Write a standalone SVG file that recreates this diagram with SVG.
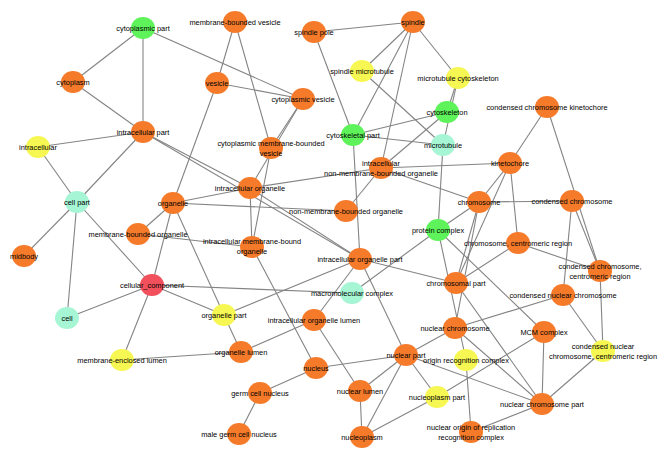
<svg xmlns="http://www.w3.org/2000/svg" width="669" height="454" viewBox="0 0 669 454">
<style>
.e line{stroke:#848484;stroke-width:1.1}
ellipse{stroke:none}
.o{fill:#f57b2b}.g{fill:#5ef35a}.c{fill:#a6f5d4}.y{fill:#f7f753}.r{fill:#f1505c}
text{font-family:"Liberation Sans",Arial,sans-serif;font-size:7.4px;fill:#000000;text-anchor:middle}
</style>
<rect width="669" height="454" fill="#ffffff"/>
<g id="edges" class="e">
<line x1="143" y1="28" x2="73" y2="82"/>
<line x1="143" y1="28" x2="143" y2="132"/>
<line x1="143" y1="28" x2="303" y2="99"/>
<line x1="73" y1="82" x2="143" y2="132"/>
<line x1="235" y1="22" x2="217" y2="83"/>
<line x1="235" y1="22" x2="271" y2="148"/>
<line x1="217" y1="83" x2="303" y2="99"/>
<line x1="217" y1="83" x2="173" y2="203"/>
<line x1="303" y1="99" x2="271" y2="148"/>
<line x1="303" y1="99" x2="250" y2="188"/>
<line x1="271" y1="148" x2="252" y2="247"/>
<line x1="314" y1="32" x2="413" y2="22"/>
<line x1="314" y1="32" x2="353" y2="135"/>
<line x1="413" y1="22" x2="362" y2="71"/>
<line x1="413" y1="22" x2="353" y2="135"/>
<line x1="413" y1="22" x2="381" y2="168"/>
<line x1="413" y1="22" x2="458" y2="78"/>
<line x1="362" y1="71" x2="443" y2="145"/>
<line x1="458" y1="78" x2="447" y2="112"/>
<line x1="458" y1="78" x2="443" y2="145"/>
<line x1="447" y1="112" x2="353" y2="135"/>
<line x1="447" y1="112" x2="381" y2="168"/>
<line x1="353" y1="135" x2="443" y2="145"/>
<line x1="353" y1="135" x2="360" y2="259"/>
<line x1="443" y1="145" x2="438" y2="230"/>
<line x1="143" y1="132" x2="38" y2="147"/>
<line x1="143" y1="132" x2="77" y2="202"/>
<line x1="143" y1="132" x2="250" y2="188"/>
<line x1="143" y1="132" x2="360" y2="259"/>
<line x1="38" y1="147" x2="77" y2="202"/>
<line x1="77" y1="202" x2="24" y2="256"/>
<line x1="77" y1="202" x2="67" y2="318"/>
<line x1="77" y1="202" x2="152" y2="285"/>
<line x1="152" y1="285" x2="173" y2="203"/>
<line x1="152" y1="285" x2="67" y2="318"/>
<line x1="152" y1="285" x2="122" y2="360"/>
<line x1="152" y1="285" x2="224" y2="315"/>
<line x1="152" y1="285" x2="352" y2="293"/>
<line x1="173" y1="203" x2="138" y2="234"/>
<line x1="173" y1="203" x2="250" y2="188"/>
<line x1="173" y1="203" x2="346" y2="211"/>
<line x1="173" y1="203" x2="224" y2="315"/>
<line x1="138" y1="234" x2="252" y2="247"/>
<line x1="250" y1="188" x2="381" y2="168"/>
<line x1="250" y1="188" x2="252" y2="247"/>
<line x1="250" y1="188" x2="360" y2="259"/>
<line x1="252" y1="247" x2="316" y2="368"/>
<line x1="346" y1="211" x2="381" y2="168"/>
<line x1="381" y1="168" x2="510" y2="163"/>
<line x1="381" y1="168" x2="479" y2="202"/>
<line x1="547" y1="107" x2="510" y2="163"/>
<line x1="547" y1="107" x2="600" y2="271"/>
<line x1="510" y1="163" x2="479" y2="202"/>
<line x1="510" y1="163" x2="456" y2="283"/>
<line x1="510" y1="163" x2="518" y2="243"/>
<line x1="479" y1="202" x2="572" y2="201"/>
<line x1="479" y1="202" x2="438" y2="230"/>
<line x1="479" y1="202" x2="456" y2="283"/>
<line x1="479" y1="202" x2="455" y2="328"/>
<line x1="572" y1="201" x2="600" y2="271"/>
<line x1="572" y1="201" x2="563" y2="295"/>
<line x1="518" y1="243" x2="600" y2="271"/>
<line x1="518" y1="243" x2="456" y2="283"/>
<line x1="600" y1="271" x2="603" y2="351"/>
<line x1="438" y1="230" x2="352" y2="293"/>
<line x1="438" y1="230" x2="544" y2="332"/>
<line x1="438" y1="230" x2="466" y2="360"/>
<line x1="360" y1="259" x2="224" y2="315"/>
<line x1="360" y1="259" x2="314" y2="320"/>
<line x1="360" y1="259" x2="406" y2="355"/>
<line x1="360" y1="259" x2="456" y2="283"/>
<line x1="456" y1="283" x2="542" y2="404"/>
<line x1="563" y1="295" x2="455" y2="328"/>
<line x1="563" y1="295" x2="603" y2="351"/>
<line x1="603" y1="351" x2="542" y2="404"/>
<line x1="455" y1="328" x2="406" y2="355"/>
<line x1="455" y1="328" x2="542" y2="404"/>
<line x1="544" y1="332" x2="542" y2="404"/>
<line x1="544" y1="332" x2="437" y2="397"/>
<line x1="466" y1="360" x2="471" y2="432"/>
<line x1="471" y1="432" x2="542" y2="404"/>
<line x1="406" y1="355" x2="316" y2="368"/>
<line x1="406" y1="355" x2="360" y2="391"/>
<line x1="406" y1="355" x2="362" y2="437"/>
<line x1="406" y1="355" x2="437" y2="397"/>
<line x1="406" y1="355" x2="542" y2="404"/>
<line x1="437" y1="397" x2="362" y2="437"/>
<line x1="360" y1="391" x2="362" y2="437"/>
<line x1="360" y1="391" x2="314" y2="320"/>
<line x1="314" y1="320" x2="241" y2="352"/>
<line x1="241" y1="352" x2="122" y2="360"/>
<line x1="241" y1="352" x2="224" y2="315"/>
<line x1="316" y1="368" x2="260" y2="393"/>
<line x1="260" y1="393" x2="239" y2="434"/>
</g>
<g id="n_cpart"><ellipse class="g" cx="143" cy="28" rx="12" ry="11"/><text x="143" y="30.6">cytoplasmic part</text></g>
<g id="n_mbv"><ellipse class="o" cx="235" cy="22" rx="12" ry="11"/><text x="235" y="24.6">membrane-bounded vesicle</text></g>
<g id="n_spole"><ellipse class="o" cx="314" cy="32" rx="12" ry="11"/><text x="314" y="34.6">spindle pole</text></g>
<g id="n_spindle"><ellipse class="o" cx="413" cy="22" rx="12" ry="11"/><text x="413" y="24.6">spindle</text></g>
<g id="n_smt"><ellipse class="y" cx="362" cy="71" rx="12" ry="11"/><text x="362" y="73.6">spindle microtubule</text></g>
<g id="n_mtc"><ellipse class="y" cx="458" cy="78" rx="12" ry="11"/><text x="458" y="80.6">microtubule cytoskeleton</text></g>
<g id="n_cytoplasm"><ellipse class="o" cx="73" cy="82" rx="12" ry="11"/><text x="73" y="84.6">cytoplasm</text></g>
<g id="n_vesicle"><ellipse class="o" cx="217" cy="83" rx="12" ry="11"/><text x="217" y="85.6">vesicle</text></g>
<g id="n_cv"><ellipse class="o" cx="303" cy="99" rx="12" ry="11"/><text x="303" y="101.6">cytoplasmic vesicle</text></g>
<g id="n_csk"><ellipse class="g" cx="447" cy="112" rx="12" ry="11"/><text x="447" y="114.6">cytoskeleton</text></g>
<g id="n_cck"><ellipse class="o" cx="547" cy="107" rx="12" ry="11"/><text x="547" y="109.6">condensed chromosome kinetochore</text></g>
<g id="n_ipart"><ellipse class="o" cx="143" cy="132" rx="12" ry="11"/><text x="143" y="134.6">intracellular part</text></g>
<g id="n_cmbv"><ellipse class="o" cx="271" cy="148" rx="12" ry="11"/><text x="271" y="145.6">cytoplasmic membrane-bounded</text><text x="271" y="155.6">vesicle</text></g>
<g id="n_cskp"><ellipse class="g" cx="353" cy="135" rx="12" ry="11"/><text x="353" y="137.6">cytoskeletal part</text></g>
<g id="n_mt"><ellipse class="c" cx="443" cy="145" rx="12" ry="11"/><text x="443" y="147.6">microtubule</text></g>
<g id="n_intra"><ellipse class="y" cx="38" cy="147" rx="12" ry="11"/><text x="38" y="149.6">intracellular</text></g>
<g id="n_inmbo"><ellipse class="o" cx="381" cy="168" rx="12" ry="11"/><text x="381" y="165.6">intracellular</text><text x="381" y="175.6">non-membrane-bounded organelle</text></g>
<g id="n_kin"><ellipse class="o" cx="510" cy="163" rx="12" ry="11"/><text x="510" y="165.6">kinetochore</text></g>
<g id="n_io"><ellipse class="o" cx="250" cy="188" rx="12" ry="11"/><text x="250" y="190.6">intracellular organelle</text></g>
<g id="n_cellpart"><ellipse class="c" cx="77" cy="202" rx="12" ry="11"/><text x="77" y="204.6">cell part</text></g>
<g id="n_org"><ellipse class="o" cx="173" cy="203" rx="12" ry="11"/><text x="173" y="205.6">organelle</text></g>
<g id="n_nmbo"><ellipse class="o" cx="346" cy="211" rx="12" ry="11"/><text x="346" y="213.6">non-membrane-bounded organelle</text></g>
<g id="n_chr"><ellipse class="o" cx="479" cy="202" rx="12" ry="11"/><text x="479" y="204.6">chromosome</text></g>
<g id="n_cchr"><ellipse class="o" cx="572" cy="201" rx="12" ry="11"/><text x="572" y="203.6">condensed chromosome</text></g>
<g id="n_mbo"><ellipse class="o" cx="138" cy="234" rx="12" ry="11"/><text x="138" y="236.6">membrane-bounded organelle</text></g>
<g id="n_imbo"><ellipse class="o" cx="252" cy="247" rx="12" ry="11"/><text x="252" y="243.6">intracellular membrane-bound</text><text x="252" y="253.6">organelle</text></g>
<g id="n_pc"><ellipse class="g" cx="438" cy="230" rx="12" ry="11"/><text x="438" y="232.6">protein complex</text></g>
<g id="n_ccr"><ellipse class="o" cx="518" cy="243" rx="12" ry="11"/><text x="518" y="245.6">chromosome, centromeric region</text></g>
<g id="n_midbody"><ellipse class="o" cx="24" cy="256" rx="12" ry="11"/><text x="24" y="258.6">midbody</text></g>
<g id="n_iop"><ellipse class="o" cx="360" cy="259" rx="12" ry="11"/><text x="360" y="261.6">intracellular organelle part</text></g>
<g id="n_cccr"><ellipse class="o" cx="600" cy="271" rx="12" ry="11"/><text x="600" y="268.6">condensed chromosome,</text><text x="600" y="278.6">centromeric region</text></g>
<g id="n_cc"><ellipse class="r" cx="152" cy="285" rx="12" ry="11"/><text x="152" y="287.6">cellular_component</text></g>
<g id="n_mmc"><ellipse class="c" cx="352" cy="293" rx="12" ry="11"/><text x="352" y="295.6">macromolecular complex</text></g>
<g id="n_chrp"><ellipse class="o" cx="456" cy="283" rx="12" ry="11"/><text x="456" y="285.6">chromosomal part</text></g>
<g id="n_cnc"><ellipse class="o" cx="563" cy="295" rx="12" ry="11"/><text x="563" y="297.6">condensed nuclear chromosome</text></g>
<g id="n_cell"><ellipse class="c" cx="67" cy="318" rx="12" ry="11"/><text x="67" y="320.6">cell</text></g>
<g id="n_orgp"><ellipse class="y" cx="224" cy="315" rx="12" ry="11"/><text x="224" y="317.6">organelle part</text></g>
<g id="n_iol"><ellipse class="o" cx="314" cy="320" rx="12" ry="11"/><text x="314" y="322.6">intracellular organelle lumen</text></g>
<g id="n_nchr"><ellipse class="o" cx="455" cy="328" rx="12" ry="11"/><text x="455" y="330.6">nuclear chromosome</text></g>
<g id="n_mcm"><ellipse class="o" cx="544" cy="332" rx="12" ry="11"/><text x="544" y="334.6">MCM complex</text></g>
<g id="n_mel"><ellipse class="y" cx="122" cy="360" rx="12" ry="11"/><text x="122" y="362.6">membrane-enclosed lumen</text></g>
<g id="n_ol"><ellipse class="o" cx="241" cy="352" rx="12" ry="11"/><text x="241" y="354.6">organelle lumen</text></g>
<g id="n_nucleus"><ellipse class="o" cx="316" cy="368" rx="12" ry="11"/><text x="316" y="370.6">nucleus</text></g>
<g id="n_npart"><ellipse class="o" cx="406" cy="355" rx="12" ry="11"/><text x="406" y="357.6">nuclear part</text></g>
<g id="n_orc"><ellipse class="y" cx="466" cy="360" rx="12" ry="11"/><text x="466" y="362.6">origin recognition complex</text></g>
<g id="n_cnccr"><ellipse class="y" cx="603" cy="351" rx="12" ry="11"/><text x="603" y="348.6">condensed nuclear</text><text x="603" y="358.6">chromosome, centromeric region</text></g>
<g id="n_npp"><ellipse class="y" cx="437" cy="397" rx="12" ry="11"/><text x="437" y="399.6">nucleoplasm part</text></g>
<g id="n_gcn"><ellipse class="o" cx="260" cy="393" rx="12" ry="11"/><text x="260" y="395.6">germ cell nucleus</text></g>
<g id="n_nl"><ellipse class="o" cx="360" cy="391" rx="12" ry="11"/><text x="360" y="393.6">nuclear lumen</text></g>
<g id="n_ncp"><ellipse class="o" cx="542" cy="404" rx="12" ry="11"/><text x="542" y="406.6">nuclear chromosome part</text></g>
<g id="n_norc"><ellipse class="o" cx="471" cy="432" rx="12" ry="11"/><text x="471" y="429.6">nuclear origin of replication</text><text x="471" y="439.6">recognition complex</text></g>
<g id="n_mgcn"><ellipse class="o" cx="239" cy="434" rx="12" ry="11"/><text x="239" y="436.6">male germ cell nucleus</text></g>
<g id="n_np"><ellipse class="o" cx="362" cy="437" rx="12" ry="11"/><text x="362" y="439.6">nucleoplasm</text></g>
</svg>
